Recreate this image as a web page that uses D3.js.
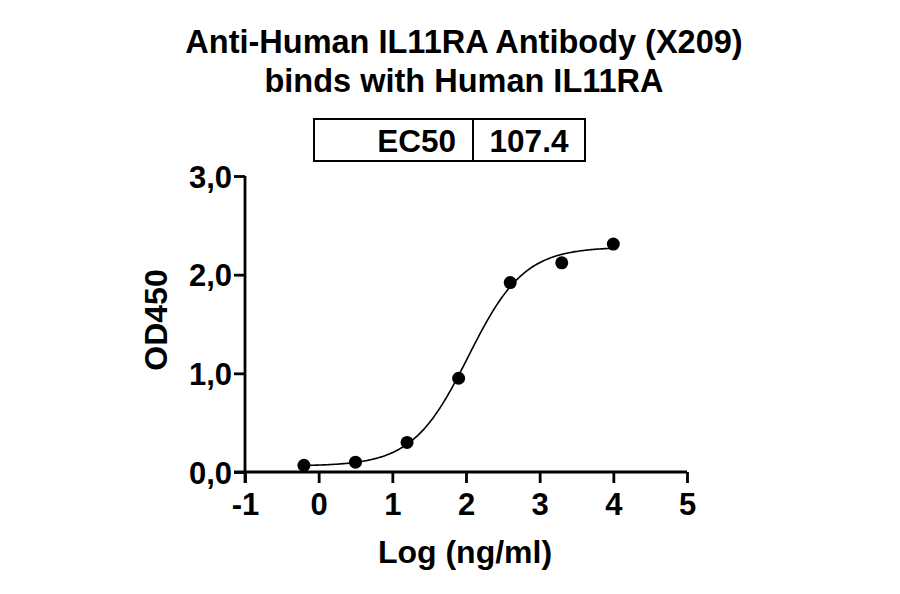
<!DOCTYPE html>
<html>
<head>
<meta charset="utf-8">
<script src="https://cdn.jsdelivr.net/npm/d3@7"></script>
<style>
  body { margin: 0; background: #fff; }
  text { font-family: "Liberation Sans", Arial, sans-serif; font-weight: bold; fill: #000; }
</style>
</head>
<body>
<script>

// measured points, log10 of ng/ml vs OD450
var logConc = [-0.2, 0.5, 1.2, 1.9, 2.6, 3.3, 4.0];
var od450 = [0.068, 0.10, 0.30, 0.95, 1.92, 2.12, 2.31];

// 4PL fit: bottom, top, logEC50, hill slope
var fitParams = [0.06, 2.28, Math.log10(107.4), 1.15];
var ec50Label = ["EC50", "107.4"];

var xTicks = [-1, 0, 1, 2, 3, 4, 5];
var yTicks = [0, 1, 2, 3];
var titleLines = ["Anti-Human IL11RA Antibody (X209)", "binds with Human IL11RA"];

function plot_it() {

    var width = 900, height = 594;

    var svg = d3.select("body").append("svg")
        .attr("width", width)
        .attr("height", height);

    var x = d3.scaleLinear().domain([-1, 5]).range([245, 687]);
    var y = d3.scaleLinear().domain([0, 3]).range([472, 176]);

    // comma decimal like the original
    var commaFmt = d3.formatLocale({ decimal: ",", thousands: ".", grouping: [3], currency: ["", ""] }).format(".1f");

    // title
    svg.selectAll(".title").data(titleLines).enter().append("text")
        .attr("class", "title")
        .attr("x", 464)
        .attr("y", function (d, i) { return 53 + i * 39; })
        .attr("text-anchor", "middle")
        .style("font-size", "32.5px")
        .text(function (d) { return d; });

    // EC50 box
    var box = svg.append("g");
    box.append("rect")
        .attr("x", 314).attr("y", 119)
        .attr("width", 271).attr("height", 42)
        .attr("fill", "none").attr("stroke", "#000").attr("stroke-width", 2);
    box.append("line")
        .attr("x1", 473).attr("x2", 473).attr("y1", 119).attr("y2", 161)
        .attr("stroke", "#000").attr("stroke-width", 2);
    box.append("text")
        .attr("x", 456).attr("y", 152)
        .attr("text-anchor", "end")
        .style("font-size", "31.5px")
        .text(ec50Label[0]);
    box.append("text")
        .attr("x", 529).attr("y", 152)
        .attr("text-anchor", "middle")
        .style("font-size", "31.5px")
        .text(ec50Label[1]);

    // axes
    var xAxis = svg.append("g")
        .attr("transform", "translate(0," + y(0) + ")")
        .call(d3.axisBottom(x).tickValues(xTicks).tickSize(11).tickSizeOuter(0).tickPadding(10)
            .tickFormat(function (d) { return String(d); }));

    var yAxis = svg.append("g")
        .attr("transform", "translate(" + x(-1) + ",0)")
        .call(d3.axisLeft(y).tickValues(yTicks).tickSize(11).tickSizeOuter(0).tickPadding(2)
            .tickFormat(commaFmt));

    [xAxis, yAxis].forEach(function (a) {
        a.select(".domain").attr("stroke", "#000").attr("stroke-width", 2.8);
        a.selectAll(".tick line").attr("stroke", "#000").attr("stroke-width", 2.8);
        a.selectAll(".tick text")
            .style("font-size", "31px")
            .attr("font-family", null);
    });
    // extend the x axis line to the left so the corner is closed
    xAxis.select(".domain").attr("d", "M" + (x(-1) - 11) + ",0H" + x(5));
    yAxis.select(".domain").attr("d", "M0," + y(3) + "V" + (y(0) + 11));
    xAxis.selectAll(".tick text").attr("dy", "0.71em");
    yAxis.selectAll(".tick text").attr("dy", "0.36em");

    // axis titles
    svg.append("text")
        .attr("x", 465).attr("y", 563)
        .attr("text-anchor", "middle")
        .style("font-size", "32px")
        .text("Log (ng/ml)");

    svg.append("text")
        .attr("transform", "translate(167,320) rotate(-90)")
        .attr("text-anchor", "middle")
        .style("font-size", "32px")
        .text("OD450");

    // fitted curve
    var bottom = fitParams[0], top = fitParams[1], logEC50 = fitParams[2], hill = fitParams[3];
    function fit(v) {
        return bottom + (top - bottom) / (1 + Math.pow(10, (logEC50 - v) * hill));
    }
    var curveX = d3.range(logConc[0], logConc[logConc.length - 1] + 0.001, 0.02);

    svg.append("path")
        .datum(curveX)
        .attr("fill", "none")
        .attr("stroke", "#000")
        .attr("stroke-width", 1.6)
        .attr("d", d3.line()
            .x(function (d) { return x(d); })
            .y(function (d) { return y(fit(d)); }));

    // points
    svg.selectAll(".pt").data(logConc).enter().append("circle")
        .attr("class", "pt")
        .attr("cx", function (d) { return x(d); })
        .attr("cy", function (d, i) { return y(od450[i]); })
        .attr("r", 6.5)
        .attr("fill", "#000");
}

plot_it();
</script>
</body>
</html>
